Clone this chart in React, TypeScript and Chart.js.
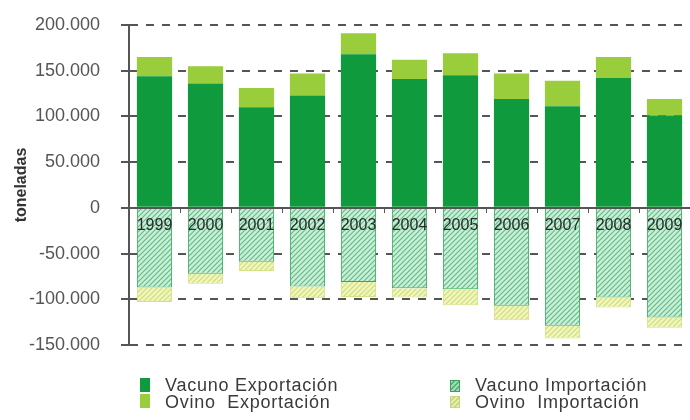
import React, { useEffect, useRef } from 'react';
import { Chart, registerables } from 'chart.js';

Chart.register(...registerables);

// ---- data ----
const years = ['1999', '2000', '2001', '2002', '2003', '2004', '2005', '2006', '2007', '2008', '2009'];
const vacunoExportacion = [144000, 136000, 110000, 123000, 168000, 141000, 145000, 119000, 111000, 142000, 101000];
const ovinoExportacion = [21000, 19000, 21000, 24000, 23000, 21000, 24000, 28000, 28000, 23000, 18000];
const vacunoImportacion = [-87000, -72000, -59000, -86000, -81000, -88000, -89000, -107000, -129000, -98000, -120000];
const ovinoImportacion = [-16000, -11000, -10000, -13000, -16500, -10000, -17500, -16000, -14000, -11000, -11000];
const seriesLabels = ['Vacuno Exportación', 'Ovino  Exportación', 'Vacuno Importación', 'Ovino  Importación'];
const yMin = -150000;
const yMax = 200000;
const yStep = 50000;
const yTitle = 'toneladas';

const FONT = '"Liberation Sans", Arial, sans-serif';

const fmt = (v: number) => {
  const s = Math.abs(Math.round(v)).toString().replace(/\B(?=(\d{3})+(?!\d))/g, '.');
  return (v < 0 ? '-' : '') + s;
};

function makeHatch(bg: string, stripe: string) {
  const s = 5;
  const c = document.createElement('canvas');
  c.width = s;
  c.height = s;
  const ctx = c.getContext('2d')!;
  ctx.fillStyle = bg;
  ctx.fillRect(0, 0, s, s);
  ctx.strokeStyle = stripe;
  ctx.lineWidth = 1.2;
  ctx.beginPath();
  ctx.moveTo(0, s);
  ctx.lineTo(s, 0);
  ctx.moveTo(-1, 1);
  ctx.lineTo(1, -1);
  ctx.moveTo(s - 1, s + 1);
  ctx.lineTo(s + 1, s - 1);
  ctx.stroke();
  return ctx.createPattern(c, 'repeat')!;
}

const swatchStyles: React.CSSProperties[] = [
  { background: '#0f9a3e' },
  { background: '#9acd3c' },
  {
    background: 'repeating-linear-gradient(135deg, #9ed8b4 0px, #9ed8b4 2px, #4fb373 2px, #4fb373 3.5px)',
    border: '1px solid #3aa25c',
    boxSizing: 'border-box',
  },
  {
    background: 'repeating-linear-gradient(135deg, #e4ecb0 0px, #e4ecb0 2px, #c6d670 2px, #c6d670 3.5px)',
    border: '1px solid #c8d680',
    boxSizing: 'border-box',
  },
];

export default function App() {
  const ref = useRef<HTMLCanvasElement | null>(null);

  useEffect(() => {
    const canvas = ref.current;
    if (!canvas) return;
    const vacHatch = makeHatch('#cbeedb', '#62bd82');
    const ovHatch = makeHatch('#f0f6bc', '#cfdc7c');
    const chart = new Chart(canvas, {
      type: 'bar',
      data: {
        labels: years,
        datasets: [
          { label: seriesLabels[0], data: vacunoExportacion, backgroundColor: '#0f9a3e', borderWidth: 0 },
          { label: seriesLabels[1], data: ovinoExportacion, backgroundColor: '#9acd3c', borderWidth: 0 },
          { label: seriesLabels[2], data: vacunoImportacion, backgroundColor: vacHatch, borderColor: '#3aaa5a', borderWidth: 1 },
          { label: seriesLabels[3], data: ovinoImportacion, backgroundColor: ovHatch, borderColor: '#d6e088', borderWidth: 1 },
        ],
      },
      options: {
        responsive: false,
        animation: false,
        datasets: { bar: { barPercentage: 0.69, categoryPercentage: 1 } },
        layout: { padding: { top: 25, bottom: 75, left: 0, right: 0 } },
        plugins: { legend: { display: false }, tooltip: { enabled: false } },
        scales: {
          x: {
            stacked: true,
            position: { y: 0 } as any,
            afterFit: (s: any) => {
              s.height = 0;
            },
            grid: { drawOnChartArea: false, drawTicks: true, tickLength: 4, color: '#555', lineWidth: 1, offset: true, z: 1 },
            border: { display: true, color: '#555', width: 2, z: 1 },
            ticks: { font: { family: FONT, size: 16 }, color: '#2a2a2a', padding: 4, maxRotation: 0, autoSkip: false, z: 1 },
          },
          y: {
            stacked: true,
            min: yMin,
            max: yMax,
            afterFit: (s: any) => {
              s.width = 129;
              s.paddingTop = 10;
              s.paddingBottom = 10;
            },
            grid: { color: '#555', lineWidth: 2, tickLength: 8, tickColor: '#555', tickWidth: 2 },
            border: { display: true, color: '#555', width: 2, dash: [8, 8] },
            ticks: {
              stepSize: yStep,
              callback: (v: any) => fmt(Number(v)),
              font: { family: FONT, size: 18 },
              color: '#555',
              padding: 21,
            },
            title: {
              display: true,
              text: yTitle,
              font: { family: FONT, size: 16, weight: 'bold' },
              color: '#333',
              padding: { top: 12, bottom: 0 },
            },
          },
        },
      },
    });
    return () => chart.destroy();
  }, []);

  const cols = [
    { boxLeft: 140, textLeft: 165, boxH: 14, boxTop: [378, 394] },
    { boxLeft: 450, textLeft: 475, boxH: 12, boxTop: [380, 396] },
  ];
  const order = [
    [0, 1],
    [2, 3],
  ];
  const rowCenters = [385, 402];

  return (
    <div style={{ position: 'absolute', left: 0, top: 0, width: 690, height: 420, background: '#fff' }}>
      <canvas ref={ref} width={690} height={420} style={{ display: 'block' }} />
      {order.map((pair, ci) =>
        pair.map((si, ri) => (
          <React.Fragment key={`${ci}-${ri}`}>
            <div
              style={{
                position: 'absolute',
                left: cols[ci].boxLeft,
                top: cols[ci].boxTop[ri],
                width: 10,
                height: cols[ci].boxH,
                ...swatchStyles[si],
              }}
            />
            <div
              style={{
                position: 'absolute',
                left: cols[ci].textLeft,
                top: rowCenters[ri] - 10,
                height: 20,
                lineHeight: '20px',
                fontFamily: FONT,
                fontSize: 18,
                letterSpacing: 0.75,
                color: '#3a3a3a',
                whiteSpace: 'pre',
              }}
            >
              {seriesLabels[si]}
            </div>
          </React.Fragment>
        ))
      )}
    </div>
  );
}
